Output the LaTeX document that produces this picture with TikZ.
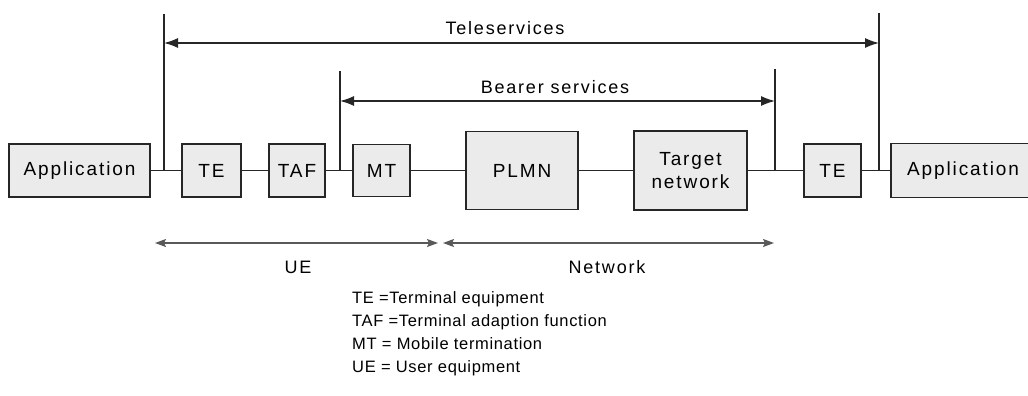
\documentclass[tikz,border=0pt]{standalone}
\usepackage{fontspec}
\setmainfont{Liberation Sans}
\newfontfamily\boxfont[LetterSpace=10]{Liberation Sans}
\newfontfamily\legfont[LetterSpace=4]{Liberation Sans}
\usetikzlibrary{arrows.meta}
\begin{document}
\begin{tikzpicture}[x=1pt,y=-1pt,
  ink/.style={draw=black!85, line width=1.3pt},
  blk/.style={ink, fill=black!8, inner sep=0pt, align=center,
    font={\boxfont\fontsize{19}{23}\selectfont}},
  wire/.style={ink},
  span/.style={ink, {Latex[length=14pt,width=10pt]}-{Latex[length=14pt,width=10pt]}},
  extent/.style={draw=black!65, line width=1.2pt,
    {Stealth[length=11pt,width=8pt,inset=2pt]}-{Stealth[length=11pt,width=8pt,inset=2pt]}},
  lbl/.style={font={\boxfont\fontsize{18}{22}\selectfont}, inner sep=0pt},
  leg/.style={font={\legfont\fontsize{16.5}{23}\selectfont}, inner sep=0pt, align=left, anchor=north west}
]
\useasboundingbox (0,0) rectangle (1028,396);
\clip (0,0) rectangle (1028,396);

% protocol chain
\node[blk, minimum width=141pt, minimum height=53pt] (app1) at (79.5,170.5) {Application};
\node[blk, minimum width=59pt,  minimum height=53pt] (te1)  at (211.5,170.5) {TE};
\node[blk, minimum width=56pt,  minimum height=53pt] (taf)  at (297,170.5) {TAF};
\node[blk, minimum width=57pt,  minimum height=52pt] (mt)   at (381.5,170.5) {MT};
\node[blk, minimum width=112pt, minimum height=78pt] (plmn) at (522,170.5) {PLMN};
\node[blk, minimum width=113pt, minimum height=79pt] (tgt)  at (690.5,170.5) {Target\\network};
\node[blk, minimum width=57pt,  minimum height=53pt] (te2)  at (832.5,170.5) {TE};
\node[blk, minimum width=144pt, minimum height=54pt] (app2) at (963,170.5) {Application};

\draw[wire] (app1.east) -- (te1.west);
\draw[wire] (te1.east) -- (taf.west);
\draw[wire] (taf.east) -- (mt.west);
\draw[wire] (mt.east) -- (plmn.west);
\draw[wire] (plmn.east) -- (tgt.west);
\draw[wire] (tgt.east) -- (te2.west);
\draw[wire] (te2.east) -- (app2.west);

% service boundaries
\coordinate (tlb) at (164,170.5);  \coordinate (tlt) at (164,14);
\coordinate (trb) at (879,170.5);  \coordinate (trt) at (879,13);
\coordinate (blb) at (340,170.5);  \coordinate (blt) at (340,71);
\coordinate (brb) at (775,170.5);  \coordinate (brt) at (775,69);
\draw[wire] (tlt) -- (tlb);
\draw[wire] (trt) -- (trb);
\draw[wire] (blt) -- (blb);
\draw[wire] (brt) -- (brb);

\coordinate (ta) at (164,43);  \coordinate (tb) at (879,43);
\coordinate (ba) at (340,101); \coordinate (bb) at (775,101);
\draw[span] (ta) -- (tb);
\draw[span] (ba) -- (bb);
\node[lbl] (tele) at (505,28) {Teleservices};
\node[lbl] (bear) at (555,87) {Bearer services};

% equipment extents
\coordinate (ue1) at (155,243);  \coordinate (ue2) at (438,243);
\coordinate (nw1) at (443,243);  \coordinate (nw2) at (774,243);
\draw[extent] (ue1) -- (ue2);
\draw[extent] (nw1) -- (nw2);
\node[lbl] (uel) at (298,267) {UE};
\node[lbl] (nwl) at (607,267) {Network};

% abbreviations
\node[leg] (legend) at (352,291) {TE =Terminal equipment\\TAF =Terminal adaption function\\MT = Mobile termination\\UE = User equipment};
\end{tikzpicture}
\end{document}
